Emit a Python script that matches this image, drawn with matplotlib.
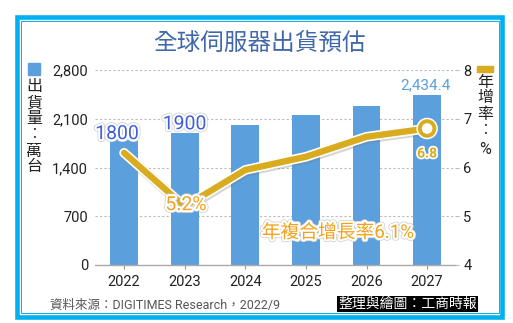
import matplotlib.pyplot as plt
import matplotlib.patheffects as pe
from matplotlib.patches import Rectangle

plt.rcParams['font.family'] = ['Roboto', 'Noto Sans CJK TC', 'DejaVu Sans']

# data
years = ['2022', '2023', '2024', '2025', '2026', '2027']
shipments = [1800, 1900, 2010, 2150, 2280, 2434.4]   # 萬台
growth = [6.3, 5.2, 5.95, 6.22, 6.63, 6.8]           # %
left_ticks = [0, 700, 1400, 2100, 2800]
right_ticks = [4, 5, 6, 7, 8]

W, H = 513, 323
bar_c = '#5ba0dc'
gold = '#d9ab1e'
orange = '#f2a31b'
cyan = '#00b0f0'

fig = plt.figure(figsize=(W / 100, H / 100), dpi=100)

# frame
fig.patches.append(Rectangle((17.25 / W, 1 - 316.75 / H), 484.5 / W, 299.5 / H,
                             transform=fig.transFigure, fill=False, ec=cyan, lw=3.3))
fig.patches.append(Rectangle((20.5 / W, 1 - 313 / H), 478 / W, 292.5 / H,
                             transform=fig.transFigure, fill=False, ec=cyan, lw=0.7))

ax = fig.add_axes([95 / W, 58 / H, 360 / W, 195 / H])
x = list(range(len(years)))
ax.bar(x, shipments, width=0.46, color=bar_c, zorder=2)
ax.set_xlim(-0.48, 5.46)
ax.set_ylim(0, 2800)
ax.set_yticks(left_ticks)
ax.set_yticklabels([f'{v:,}' for v in left_ticks], fontsize=10.5, color='#222222')
ax.set_xticks(x)
ax.set_xticklabels(years, fontsize=10.5, color='#222222')
ax.tick_params(axis='y', length=0, pad=5)
ax.tick_params(axis='x', length=3, color='#999999', pad=4)
ax.grid(axis='y', linestyle=(0, (2, 2)), color='#bbbbbb', lw=0.8, zorder=0)
ax.set_axisbelow(True)
for s in ['top', 'left', 'right']:
    ax.spines[s].set_visible(False)
ax.spines['bottom'].set_color('#aaaaaa')
ax.spines['bottom'].set_linewidth(1)

ax2 = ax.twinx()
ax2.set_ylim(4, 8)
ax2.set_yticks(right_ticks)
ax2.set_yticklabels([str(v) for v in right_ticks], fontsize=10.5, color='#222222')
ax2.tick_params(axis='y', length=3, color='#bbbbbb', pad=3)
for s in ['top', 'left', 'right', 'bottom']:
    ax2.spines[s].set_visible(False)

line_fx = [pe.SimpleLineShadow(offset=(0.8, -1.0), shadow_color='#777777', alpha=0.3, linewidth=7.5),
           pe.Stroke(linewidth=7, foreground='white'), pe.Normal()]
ax2.plot(x, growth, color=gold, lw=4.6, solid_joinstyle='round',
         solid_capstyle='round', path_effects=line_fx, zorder=3)
ax2.plot(x[-1], growth[-1], 'o', ms=10.5, mfc='white', mec=gold, mew=2.8, zorder=4,
         path_effects=[pe.Stroke(linewidth=5, foreground='white'), pe.Normal()])

# labels
white_fx = [pe.withStroke(linewidth=4, foreground='#cccccc'),
            pe.withStroke(linewidth=3, foreground='white')]
ax.annotate('1800', (0, shipments[0]), xytext=(-5, 4), textcoords='offset points',
            ha='center', va='center', fontsize=14, color='#3f5fd8', path_effects=white_fx, zorder=5)
ax.annotate('1900', (1, shipments[1]), xytext=(0, 6), textcoords='offset points',
            ha='center', va='center', fontsize=14, color='#3f5fd8', path_effects=white_fx, zorder=5)
ax.annotate(f'{shipments[-1]:,}', (5, shipments[-1]), xytext=(-1, 2), textcoords='offset points',
            ha='center', va='bottom', fontsize=11, color=bar_c, zorder=5)
ax2.annotate(f'{growth[1]}%', (1, growth[1]), xytext=(1, 1), textcoords='offset points',
             ha='center', va='center', fontsize=14, color=orange, path_effects=white_fx, zorder=5)
ax2.annotate(f'{growth[-1]}', (5, growth[-1]), xytext=(0, -18), textcoords='offset points',
             ha='center', va='center', fontsize=10, color=gold, fontweight='bold', zorder=5,
             path_effects=[pe.withStroke(linewidth=2.5, foreground='white')])
ax2.text(3.53, 4.66, '年複合增長率6.1%', ha='center', va='center', fontsize=13.5,
         color=orange, path_effects=white_fx, zorder=5)

# title and axis legends
fig.text(259 / W, 1 - 43 / H, '全球伺服器出貨預估', ha='center', va='center',
         fontsize=17, color='#4068aa', fontweight='medium')
fig.patches.append(Rectangle((28 / W, 1 - 75 / H), 12 / W, 12 / H,
                             transform=fig.transFigure, color=bar_c))
left_label = ['出', '貨', '量', '︰', '萬', '台']
left_y = [87, 103, 119, 135, 151, 167]
for ch, yy in zip(left_label, left_y):
    fig.text(34 / W, 1 - yy / H, ch, ha='center', va='center', fontsize=11.5, color='#222222')
fig.patches.append(Rectangle((477 / W, 1 - 72 / H), 16 / W, 6 / H,
                             transform=fig.transFigure, color=gold))
right_label = ['年', '增', '率', '︰', '%']
right_y = [82, 98, 114, 131, 150]
for ch, yy in zip(right_label, right_y):
    fig.text(485 / W, 1 - yy / H, ch, ha='center', va='center', fontsize=11.5, color='#222222')

# footer
fig.text(50 / W, 1 - 305 / H, '資料來源：DIGITIMES Research，2022/9', ha='left', va='center',
         fontsize=9, color='#555555')
fig.text(338 / W, 1 - 304 / H, '整理與繪圖：工商時報', ha='left', va='center',
         fontsize=10, color='white',
         bbox=dict(boxstyle='square,pad=0.1', fc='black', ec='none'))

fig.savefig('out.png', dpi=100)
